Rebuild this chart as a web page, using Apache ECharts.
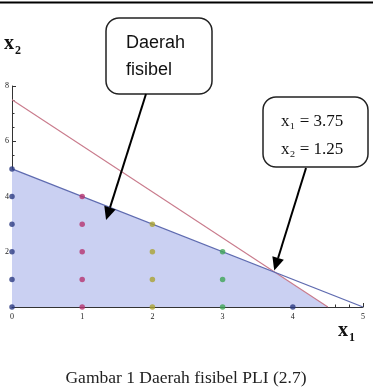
<!DOCTYPE html>
<html><head><meta charset="utf-8">
<script src="https://cdn.jsdelivr.net/npm/echarts@6/dist/echarts.min.js"></script>
<style>html,body{margin:0;padding:0;background:#fff}#c{width:373px;height:391px}</style>
</head><body><div id="c"></div>
<script>
// Data
var xTicks = [0, 1, 2, 3, 4, 5];
var yTicks = [2, 4, 6, 8];
var feasibleRegion = [[0, 5], [3.75, 1.25], [4.5, 0]];
var constraintBlue = [[0, 5], [5, 0]];
var constraintRed = [[0, 7.5], [4.5, 0]];
var optimumPoint = [3.75, 1.25];
var regionArrowTarget = [1.34, 3.15];
var pointsX0 = [[0,0],[0,1],[0,2],[0,3],[0,4],[0,5]];
var pointsX1 = [[1,0],[1,1],[1,2],[1,3],[1,4]];
var pointsX2 = [[2,0],[2,1],[2,2],[2,3]];
var pointsX3 = [[3,0],[3,1],[3,2]];
var pointsX4 = [[4,0]];
var pointColors = ['#2a3a82', '#b5336f', '#aaa332', '#3ea556', '#2a3a82'];
var calloutRegion = ['Daerah', 'fisibel'];
var calloutOptimum = ['x\u2081 = 3.75', 'x\u2082 = 1.25'];
var captionText = 'Gambar 1 Daerah fisibel PLI (2.7)';

var chart = echarts.init(document.getElementById('c'), null, {renderer: 'canvas'});
function pts(data, color) {
  return {type: 'scatter', data: data, symbolSize: 5.5, clip: false, z: 5,
    itemStyle: {color: color}, silent: true};
}
var option = {
  animation: false,
  grid: {left: 12, right: 10, top: 86, bottom: 84, containLabel: false},
  xAxis: {type: 'value', min: 0, max: 5, interval: 1,
    axisLine: {lineStyle: {color: '#333', width: 1}},
    axisTick: {inside: true, length: 4, lineStyle: {color: '#333'}},
    minorTick: {show: true, splitNumber: 5, length: 2.5, lineStyle: {color: '#333'}},
    splitLine: {show: false},
    axisLabel: {fontFamily: 'Liberation Serif', fontSize: 8, color: '#222', margin: 6,
      formatter: function(v){ return xTicks.indexOf(v) >= 0 ? String(v) : ''; }}
  },
  yAxis: {type: 'value', min: 0, max: 8, interval: 2,
    axisLine: {show: true, lineStyle: {color: '#333', width: 1}},
    axisTick: {show: true, inside: true, length: 4, lineStyle: {color: '#333'}},
    minorTick: {show: true, splitNumber: 4, length: 2.5, lineStyle: {color: '#333'}},
    splitLine: {show: false},
    axisLabel: {fontFamily: 'Liberation Serif', fontSize: 8, color: '#222', margin: 3,
      formatter: function(v){ return yTicks.indexOf(v) >= 0 ? String(v) : ''; }}
  },
  series: [
    {type: 'line', data: feasibleRegion, symbol: 'none', lineStyle: {width: 0},
      areaStyle: {color: '#cad0f2', opacity: 1}, z: 1, silent: true},
    {type: 'line', data: constraintRed, symbol: 'none', z: 3,
      lineStyle: {color: '#c97b8c', width: 1.1}, silent: true},
    {type: 'line', data: constraintBlue, symbol: 'none', z: 3,
      lineStyle: {color: '#5f6bb0', width: 1.3}, silent: true},
    pts(pointsX0, pointColors[0]),
    pts(pointsX1, pointColors[1]),
    pts(pointsX2, pointColors[2]),
    pts(pointsX3, pointColors[3]),
    pts(pointsX4, pointColors[4])
  ]
};
chart.setOption(option);

function arrow(from, to) {
  var dx = to[0] - from[0], dy = to[1] - from[1];
  var len = Math.sqrt(dx*dx + dy*dy), ux = dx/len, uy = dy/len;
  var hl = 13, hw = 6;
  var bx = to[0] - ux*hl, by = to[1] - uy*hl;
  return [
    {type: 'line', shape: {x1: from[0], y1: from[1], x2: bx, y2: by},
      style: {stroke: '#000', lineWidth: 2}, z: 20},
    {type: 'polygon', shape: {points: [to, [bx - uy*hw, by + ux*hw], [bx + uy*hw, by - ux*hw]]},
      style: {fill: '#000'}, z: 20}
  ];
}
var tip1 = chart.convertToPixel({gridIndex: 0}, regionArrowTarget);
var tip2 = chart.convertToPixel({gridIndex: 0}, optimumPoint);
var g = [
  {type: 'line', shape: {x1: 0, y1: 2.5, x2: 373, y2: 2.5}, style: {stroke: '#000', lineWidth: 2}},
  {type: 'text', left: 4, top: 34, style: {text: 'x', font: 'bold 20px "Liberation Serif"', fill: '#111'}},
  {type: 'text', left: 15, top: 45, style: {text: '2', font: 'bold 12px "Liberation Serif"', fill: '#111'}},
  {type: 'text', left: 338, top: 321, style: {text: 'x', font: 'bold 20px "Liberation Serif"', fill: '#111'}},
  {type: 'text', left: 349, top: 332, style: {text: '1', font: 'bold 12px "Liberation Serif"', fill: '#111'}},
  {type: 'rect', shape: {x: 106, y: 18, width: 106, height: 76, r: 13},
    style: {fill: '#fff', stroke: '#222', lineWidth: 1.5}, z: 15},
  {type: 'text', x: 126, y: 43, style: {text: calloutRegion[0], font: '18px "Liberation Sans"', fill: '#111', verticalAlign: 'middle'}, z: 16},
  {type: 'text', x: 126, y: 70, style: {text: calloutRegion[1], font: '18px "Liberation Sans"', fill: '#111', verticalAlign: 'middle'}, z: 16},
  {type: 'rect', shape: {x: 263, y: 97, width: 105, height: 70, r: 13},
    style: {fill: '#fff', stroke: '#222', lineWidth: 1.5}, z: 15},
  {type: 'text', x: 281, y: 122, style: {text: calloutOptimum[0], font: '17px "Liberation Serif"', fill: '#111', verticalAlign: 'middle'}, z: 16},
  {type: 'text', x: 281, y: 150, style: {text: calloutOptimum[1], font: '17px "Liberation Serif"', fill: '#111', verticalAlign: 'middle'}, z: 16},
  {type: 'text', x: 186, y: 378, style: {text: captionText, font: '17.5px "Liberation Serif"', fill: '#222', align: 'center', verticalAlign: 'middle'}}
];
g = g.concat(arrow([146, 94], tip1)).concat(arrow([306, 168], [tip2[0] - 1, tip2[1] - 2]));
chart.setOption({graphic: {elements: g}});
</script></body></html>
